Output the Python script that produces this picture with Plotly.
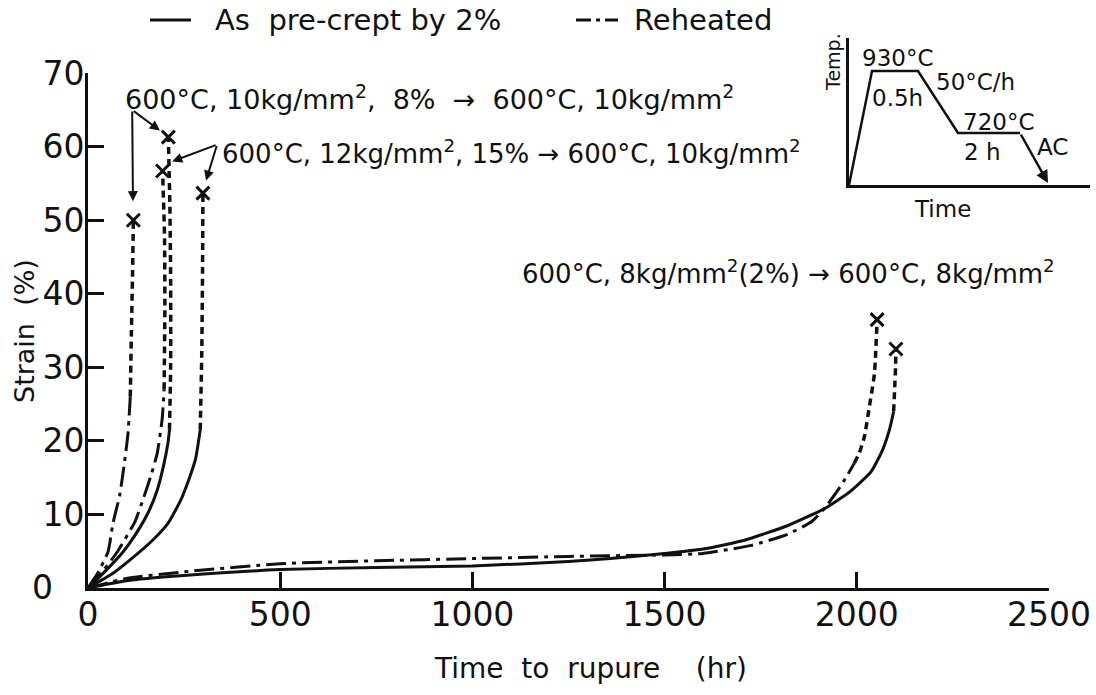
import plotly.graph_objects as go

# ---- creep curves at 600 °C (time in hr, strain in %) ----
# 10 kg/mm2 group, reheated after 8 % pre-strain
t10_reh = [0, 25, 52, 65, 82, 94, 104, 110]
e10_reh = [0, 2.0, 4.9, 8.8, 12.5, 16.7, 21.0, 26.0]
t10_reh_tail = [110, 113, 116, 118]
e10_reh_tail = [26.0, 35.0, 43.0, 50.0]

# 10 kg/mm2 group, as pre-crept
t10_pre = [0, 45, 91, 130, 157, 180, 196, 208, 212]
e10_pre = [0, 2.3, 4.9, 7.8, 10.3, 13.3, 16.5, 19.7, 21.5]
t10_pre_tail = [212, 215, 215, 213, 209]
e10_pre_tail = [21.5, 30.0, 42.0, 52.0, 61.3]

# 12 kg/mm2 group, reheated after 15 % pre-strain
t12_reh = [0, 40, 76, 122, 143, 165, 180, 193, 198]
e12_reh = [0, 2.4, 4.9, 9.0, 12.0, 15.5, 18.3, 23.0, 27.0]
t12_reh_tail = [198, 200, 199, 194]
e12_reh_tail = [27.0, 38.0, 48.0, 56.7]

# 12 kg/mm2 group, as pre-crept
t12_pre = [0, 65, 125, 170, 208, 240, 262, 280, 292]
e12_pre = [0, 2.0, 4.5, 6.6, 8.8, 11.8, 14.7, 17.6, 21.5]
t12_pre_tail = [292, 296, 298, 299]
e12_pre_tail = [21.5, 32.0, 43.0, 53.7]

# 8 kg/mm2 group, as pre-crept by 2 %
t8_pre = [0, 100, 250, 500, 750, 1000, 1250, 1500, 1600, 1708, 1821, 1916,
          1980, 2037, 2065, 2085, 2096]
e8_pre = [0, 1.0, 1.7, 2.5, 2.8, 3.0, 3.6, 4.7, 5.3, 6.5, 8.5, 10.8,
          13.0, 15.8, 18.5, 21.5, 24.0]
t8_pre_tail = [2096, 2099, 2101, 2102]
e8_pre_tail = [24.0, 27.5, 30.0, 32.5]

# 8 kg/mm2 group, reheated
t8_reh = [0, 100, 250, 500, 750, 1000, 1250, 1500, 1600, 1726, 1820, 1882,
          1916, 1960, 1994]
e8_reh = [0, 1.3, 2.2, 3.3, 3.7, 4.0, 4.3, 4.5, 4.7, 5.8, 7.3, 9.0,
          10.8, 14.0, 17.0]
t8_reh_tail = [1994, 2007, 2020, 2033, 2046, 2053]
e8_reh_tail = [17.0, 18.4, 20.6, 24.7, 29.1, 36.5]

# axis ticks (the strain origin label is set apart from the time origin)
x_tickvals = [0, 500, 1000, 1500, 2000, 2500]
y_tickvals = [10, 20, 30, 40, 50, 60, 70]
y_origin_label = "0"

# heat-treatment schedule for the inset (schematic units)
ht_time = [0, 23, 69, 109, 171]
ht_temp = [0, 114, 114, 52, 52]
ht_ac_end = (199, 2)

FONT = "DejaVu Sans"
BLACK = "#111111"
SOLID = "solid"
DASHDOT = "20px,6px,4px,6px"
DOTTED = "7px,5px"

# paper coordinates: plot area spans 1002 x 550 px, origin at (88, 588)
PW, PH, PX0, PY0 = 1002, 550, 88, 588


def px(xp):
    return (xp - PX0) / PW


def py(yp):
    return (PY0 - yp) / PH


fig = go.Figure()


def add_curve(t, e, t_tail, e_tail, dash, name):
    fig.add_trace(go.Scatter(x=t, y=e, mode="lines", name=name,
                             line=dict(color=BLACK, width=3, dash=dash,
                                       shape="spline", smoothing=0.5),
                             showlegend=False))
    fig.add_trace(go.Scatter(x=t_tail, y=e_tail, mode="lines", name=name,
                             line=dict(color=BLACK, width=3.5, dash=DOTTED,
                                       shape="spline", smoothing=0.5),
                             showlegend=False))
    fig.add_trace(go.Scatter(x=[t_tail[-1]], y=[e_tail[-1]], mode="markers",
                             name=name,
                             marker=dict(symbol="x-thin", size=13,
                                         line=dict(color=BLACK, width=3)),
                             showlegend=False, cliponaxis=False))


add_curve(t10_reh, e10_reh, t10_reh_tail, e10_reh_tail, DASHDOT, "10 kg reheated")
add_curve(t10_pre, e10_pre, t10_pre_tail, e10_pre_tail, SOLID, "10 kg pre-crept")
add_curve(t12_reh, e12_reh, t12_reh_tail, e12_reh_tail, DASHDOT, "12 kg reheated")
add_curve(t12_pre, e12_pre, t12_pre_tail, e12_pre_tail, SOLID, "12 kg pre-crept")
add_curve(t8_pre, e8_pre, t8_pre_tail, e8_pre_tail, SOLID, "8 kg pre-crept")
add_curve(t8_reh, e8_reh, t8_reh_tail, e8_reh_tail, DASHDOT, "8 kg reheated")

# inset: heat-treatment schedule
fig.add_trace(go.Scatter(x=ht_time, y=ht_temp, mode="lines", xaxis="x2",
                         yaxis="y2", line=dict(color=BLACK, width=2.5),
                         showlegend=False))

annotations = []
txt = dict(family=FONT, size=26, color=BLACK)

# condition labels
annotations += [
    dict(x=91, y=66.7, xref="x", yref="y", xanchor="left", yanchor="middle",
         text="600°C, 10kg/mm<sup>2</sup>,  8%  →  600°C, 10kg/mm<sup>2</sup>",
         showarrow=False, font=dict(family=FONT, size=27, color=BLACK)),
    dict(x=343, y=59.3, xref="x", yref="y", xanchor="left", yanchor="middle",
         text="600°C, 12kg/mm<sup>2</sup>, 15% → 600°C, 10kg/mm<sup>2</sup>",
         showarrow=False, font=txt),
    dict(x=1124, y=43.0, xref="x", yref="y", xanchor="left", yanchor="middle",
         text="600°C, 8kg/mm<sup>2</sup>(2%) → 600°C, 8kg/mm<sup>2</sup>",
         showarrow=False, font=txt),
]

# leader arrows from labels to rupture points
for hx, hy, tx, ty in [(117, 52.6, 115, 65.0), (187, 62.2, 115, 65.0),
                       (219, 58.0, 336, 60.3), (307, 55.4, 336, 60.3)]:
    annotations.append(dict(x=hx, y=hy, ax=tx, ay=ty, xref="x", yref="y",
                            axref="x", ayref="y", text="", showarrow=True,
                            arrowhead=2, arrowsize=1, arrowwidth=2,
                            arrowcolor=BLACK))

# strain-axis origin label, placed left of the time-axis "0"
annotations.append(dict(x=px(42), y=0, xref="paper", yref="y",
                        xanchor="center", yanchor="middle",
                        text=y_origin_label, showarrow=False,
                        font=dict(family=FONT, size=33, color=BLACK)))

# inset labels
itxt = dict(family=FONT, size=23, color=BLACK)
for x, y, s in [(48, 127, "930°C"), (48, 87, "0.5h"), (126, 103, "50°C/h"),
                (149, 63, "720°C"), (133, 33, "2 h"), (204, 38, "AC")]:
    annotations.append(dict(x=x, y=y, xref="x2", yref="y2", text=s,
                            xanchor="center", yanchor="middle",
                            showarrow=False, font=itxt))
annotations.append(dict(x=px(942), y=py(209), xref="paper", yref="paper",
                        text="Time", xanchor="center", yanchor="middle",
                        showarrow=False, font=itxt))
annotations.append(dict(x=px(833), y=py(62), xref="paper", yref="paper",
                        text="Temp.", textangle=-90, xanchor="center",
                        yanchor="middle", showarrow=False,
                        font=dict(family=FONT, size=19, color=BLACK)))
annotations.append(dict(x=ht_ac_end[0], y=ht_ac_end[1], ax=ht_time[-1],
                        ay=ht_temp[-1], xref="x2", yref="y2", axref="x2",
                        ayref="y2", text="", showarrow=True, arrowhead=2,
                        arrowsize=1, arrowwidth=2.5, arrowcolor=BLACK))

# axis titles
annotations.append(dict(x=px(590), y=py(668), xref="paper", yref="paper",
                        xanchor="center", yanchor="middle",
                        text="Time  to  rupure    (hr)", showarrow=False,
                        font=dict(family=FONT, size=28, color=BLACK)))
annotations.append(dict(x=px(24), y=py(331), xref="paper", yref="paper",
                        xanchor="center", yanchor="middle",
                        text="Strain  (%)", textangle=-90, showarrow=False,
                        font=dict(family=FONT, size=27, color=BLACK)))

# legend keys
leg_y = py(20)
lfont = dict(family=FONT, size=29, color=BLACK)
annotations.append(dict(x=px(213), y=leg_y, xref="paper", yref="paper",
                        xanchor="left", yanchor="middle",
                        text="As  pre-crept by 2%", showarrow=False,
                        font=lfont))
annotations.append(dict(x=px(632), y=leg_y, xref="paper", yref="paper",
                        xanchor="left", yanchor="middle", text="Reheated",
                        showarrow=False, font=lfont))
shapes = [
    dict(type="line", xref="paper", yref="paper", x0=px(150), x1=px(191),
         y0=leg_y, y1=leg_y, line=dict(color=BLACK, width=3)),
    dict(type="line", xref="paper", yref="paper", x0=px(576), x1=px(618),
         y0=leg_y, y1=leg_y,
         line=dict(color=BLACK, width=3, dash="15px,5px,4px,5px")),
]

axis_common = dict(showgrid=False, zeroline=False, showline=True,
                   linecolor=BLACK, linewidth=3, ticks="inside", ticklen=16,
                   tickwidth=2.5, tickcolor=BLACK, automargin=False,
                   tickfont=dict(family=FONT, size=33, color=BLACK))

fig.update_layout(
    width=1096, height=695,
    margin=dict(l=PX0, r=1096 - PX0 - PW, t=PY0 - PH, b=695 - PY0),
    paper_bgcolor="white", plot_bgcolor="white",
    xaxis=dict(domain=[0, 0.959], range=[0, 2500], tickvals=x_tickvals,
               ticklabelstandoff=-5, **axis_common),
    yaxis=dict(domain=[0, 0.936], range=[0, 70], tickvals=y_tickvals,
               ticklabelstandoff=-6, **axis_common),
    xaxis2=dict(domain=[0.7595, 1.0], range=[0, 241], anchor="y2",
                showgrid=False, zeroline=False, showline=True, linecolor=BLACK,
                linewidth=2.5, showticklabels=False, ticks="", automargin=False),
    yaxis2=dict(domain=[0.7327, 1.0], range=[0, 147], anchor="x2",
                showgrid=False, zeroline=False, showline=True, linecolor=BLACK,
                linewidth=2.5, showticklabels=False, ticks="", automargin=False),
    annotations=annotations,
    shapes=shapes,
    showlegend=False,
)

fig.write_html("out.html")
